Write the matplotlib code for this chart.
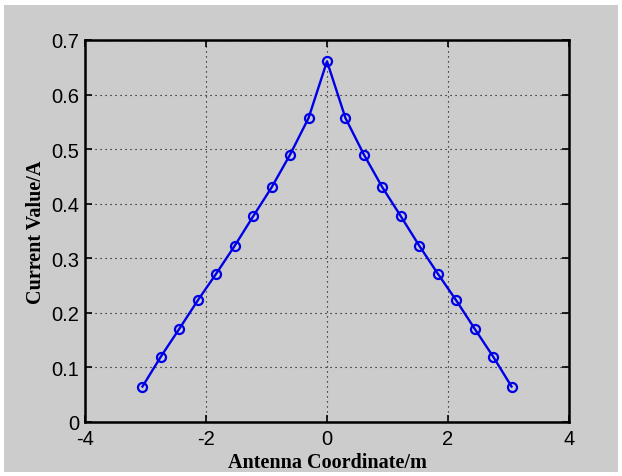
import matplotlib
matplotlib.use("Agg")
import matplotlib.pyplot as plt
from matplotlib.patches import Rectangle

plt.rcParams["axes.unicode_minus"] = False

# Current distribution along the antenna
coord_m = [-3.05, -2.745, -2.44, -2.135, -1.83, -1.525, -1.22, -0.915, -0.61, -0.305,
           0.0,
           0.305, 0.61, 0.915, 1.22, 1.525, 1.83, 2.135, 2.44, 2.745, 3.05]
current_a = [0.065, 0.120, 0.171, 0.223, 0.272, 0.323, 0.377, 0.430, 0.490, 0.557,
             0.661,
             0.557, 0.490, 0.430, 0.377, 0.323, 0.272, 0.223, 0.171, 0.120, 0.065]

x_ticks = [-4, -2, 0, 2, 4]
y_ticks = [0, 0.1, 0.2, 0.3, 0.4, 0.5, 0.6, 0.7]
y_tick_labels = ["0", "0.1", "0.2", "0.3", "0.4", "0.5", "0.6", "0.7"]

W, H, DPI = 622, 477, 100
grey = "#cccccc"

fig = plt.figure(figsize=(W / DPI, H / DPI), dpi=DPI, facecolor="white")
# grey panel behind the axes, leaving a thin white rim
fig.patches.append(Rectangle((4 / W, 4 / H), 614 / W, 467 / H,
                             transform=fig.transFigure, facecolor=grey,
                             edgecolor="none", zorder=-10))

ax = fig.add_axes([85 / W, (H - 423) / H, (569 - 85) / W, (423 - 41) / H])
ax.set_facecolor(grey)

ax.plot(coord_m, current_a, color="#0000e6", linewidth=1.7,
        marker="o", markersize=6.5, markerfacecolor="none",
        markeredgecolor="#0000e6", markeredgewidth=1.6, zorder=3)

ax.set_xlim(-4, 4)
ax.set_ylim(0, 0.7)
ax.set_xticks(x_ticks)
ax.set_yticks(y_ticks)
ax.set_yticklabels(y_tick_labels)

ax.grid(True, color="black", linestyle=(0, (1, 3.5)), linewidth=0.8)
ax.tick_params(direction="in", top=True, right=True, length=5, width=1.2,
               labelsize=14.5, colors="black")
ax.tick_params(axis="x", pad=5)
ax.tick_params(axis="y", pad=4)
for lbl in ax.get_xticklabels() + ax.get_yticklabels():
    lbl.set_family(["Liberation Sans", "DejaVu Sans"])
for sp in ax.spines.values():
    sp.set_linewidth(1.8)
    sp.set_color("black")

label_font = dict(family=["Liberation Serif", "DejaVu Serif"], fontsize=14.5,
                  fontweight="bold")
ax.set_xlabel("Antenna Coordinate/m", labelpad=3, **label_font)
ax.set_ylabel("Current Value/A", labelpad=4, **label_font)

fig.savefig("out.png", dpi=DPI, facecolor="white")
